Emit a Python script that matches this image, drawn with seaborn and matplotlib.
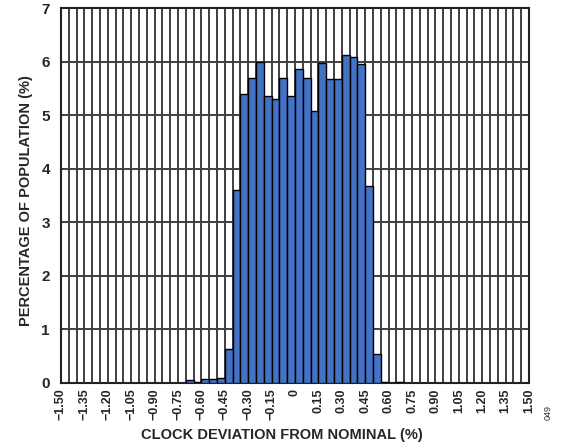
import numpy as np
import pandas as pd
import seaborn as sns
import matplotlib
matplotlib.use("Agg")
import matplotlib.pyplot as plt


# =========================
# DATA
# =========================

# left edge of each 0.05 wide bin, in % deviation
bin_left = [-0.70, -0.65, -0.60, -0.55, -0.50, -0.45,
            -0.40, -0.35, -0.30, -0.25, -0.20, -0.15, -0.10, -0.05,
            0.00, 0.05, 0.10, 0.15, 0.20, 0.25, 0.30, 0.35, 0.40,
            0.45, 0.50, 0.55, 0.60, 0.65]
population_pct = [0.05, 0.02, 0.07, 0.07, 0.09, 0.63,
                  3.60, 5.40, 5.70, 6.00, 5.36, 5.31, 5.70, 5.36,
                  5.87, 5.70, 5.08, 5.98, 5.68, 5.68, 6.13, 6.09, 5.95,
                  3.67, 0.55, 0.01, 0.00, 0.01]

x_ticks = [-1.50, -1.35, -1.20, -1.05, -0.90, -0.75, -0.60, -0.45, -0.30, -0.15,
           0.0, 0.15, 0.30, 0.45, 0.60, 0.75, 0.90, 1.05, 1.20, 1.35, 1.50]
x_ticklabels = ["\u22121.50", "\u22121.35", "\u22121.20", "\u22121.05", "\u22120.90",
                "\u22120.75", "\u22120.60", "\u22120.45", "\u22120.30", "\u22120.15",
                "0", "0.15", "0.30", "0.45", "0.60", "0.75", "0.90", "1.05",
                "1.20", "1.35", "1.50"]
y_ticks = [0, 1, 2, 3, 4, 5, 6, 7]

BIN_W = 0.05
BAR_COLOR = "#4472C4"
GRID_COLOR = "#3f3f3f"

df = pd.DataFrame({"left": bin_left, "pct": population_pct})
df["center"] = df["left"] + BIN_W / 2


# =========================
# PLOT
# =========================

sns.set_style("white")
plt.rcParams["font.family"] = ["Liberation Sans", "DejaVu Sans"]
plt.rcParams["font.weight"] = "bold"

fig = plt.figure(figsize=(5.63, 4.46), dpi=100)
ax = fig.add_axes([61 / 563, 1 - 383 / 446, (529 - 61) / 563, (383 - 8) / 446])

# grid: every 0.05 vertically, every 1 horizontally
ax.set_xticks(np.round(np.arange(-1.5, 1.5001, BIN_W), 2), minor=True)
ax.grid(True, which="minor", axis="x", color=GRID_COLOR, lw=1.4)
ax.grid(True, which="major", axis="both", color=GRID_COLOR, lw=1.4)
ax.set_axisbelow(True)

ax.bar(df["center"], df["pct"], width=BIN_W, color=BAR_COLOR,
       edgecolor="black", linewidth=1.0, zorder=3)

ax.set_xlim(-1.5, 1.5)
ax.set_ylim(0, 7)
ax.set_xticks(x_ticks)
ax.set_xticklabels(x_ticklabels, rotation=90, fontsize=9, fontweight="bold")
ax.set_yticks(y_ticks)
ax.set_yticklabels([str(v) for v in y_ticks], fontsize=11, fontweight="bold")
ax.tick_params(axis="x", which="both", length=0, pad=4)
ax.tick_params(axis="y", which="both", length=0, pad=8)

for side in ax.spines.values():
    side.set_color("#222222")
    side.set_linewidth(1.5)

ax.set_xlabel("CLOCK DEVIATION FROM NOMINAL (%)", fontsize=10.5, fontweight="bold")
ax.set_ylabel("PERCENTAGE OF POPULATION (%)", fontsize=10.5, fontweight="bold")
ax.xaxis.label.set_va("center")
ax.yaxis.label.set_va("center")
# x label sits centred on the figure, not on the axes
ax.xaxis.set_label_coords((281.5 - 61) / 468, -(435 - 383) / 375)
ax.yaxis.set_label_coords(-(61 - 26) / 468, (383 - 201) / 375)

fig.text(548 / 563, 1 - 413 / 446, "049", rotation=90, fontsize=6.5,
         fontweight="normal", ha="center", va="center", color="#333333")

fig.savefig("out.png", dpi=100)
